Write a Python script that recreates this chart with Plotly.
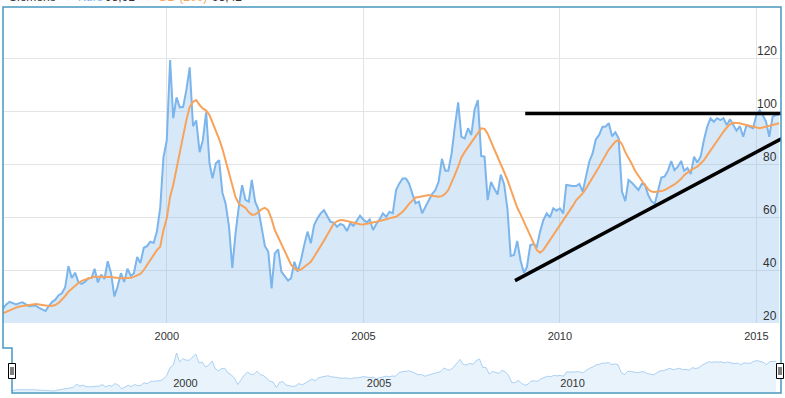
import pandas as pd
import plotly.graph_objects as go

# ---------------- data (monthly, starting Nov 1995) ----------------
start_month = "1995-11-01"

kurs = [
    25.5, 27.0, 28.0, 27.6, 27.0, 27.5, 27.8, 27.0, 26.3, 26.5,
    26.5, 25.7, 25.0, 24.5, 26.5, 28.0, 28.8, 30.5, 31.2, 33.5,
    41.5, 37.0, 39.0, 35.5, 34.8, 35.5, 36.9, 37.0, 40.5, 35.3,
    38.3, 36.6, 43.3, 38.9, 30.0, 33.8, 38.8, 35.5, 40.5, 37.8,
    38.7, 44.9, 42.6, 48.4, 49.0, 50.7, 50.2, 54.5, 63.5, 82.5,
    89.0, 119.3, 97.3, 105.2, 101.4, 101.6, 107.9, 116.5, 94.3, 96.5,
    84.5, 89.0, 99.5, 80.3, 74.6, 80.3, 81.5, 69.2, 65.0, 56.5,
    40.8, 53.9, 64.0, 72.0, 66.5, 65.8, 74.0, 65.8, 63.0, 56.0,
    49.0, 47.0, 33.1, 46.3, 47.8, 39.4, 37.5, 36.0, 36.9, 43.1,
    39.4, 43.8, 49.4, 54.5, 50.1, 57.0, 59.5, 61.4, 62.6, 60.1,
    58.2, 57.9, 56.3, 57.4, 56.9, 54.7, 57.6, 56.7, 58.9, 60.5,
    59.1, 58.0, 59.1, 55.1, 57.4, 59.1, 61.4, 60.1, 62.0, 61.4,
    70.2, 72.7, 74.6, 74.6, 72.7, 68.9, 65.2, 65.8, 61.4, 63.9,
    66.4, 68.7, 70.2, 73.3, 82.0, 77.5, 77.5, 84.0, 94.1, 103.3,
    90.3, 89.7, 93.5, 91.0, 100.6, 104.2, 83.1, 82.8, 66.4, 73.3,
    70.8, 68.5, 76.0, 72.4, 63.0, 45.3, 45.7, 51.0, 43.5, 39.0,
    41.2, 49.4, 49.8, 48.8, 54.5, 58.9, 61.4, 59.9, 63.3, 62.4,
    63.3, 61.4, 72.1, 71.8, 71.7, 71.7, 72.5, 69.6, 75.8, 80.9,
    84.0, 89.3, 91.0, 94.1, 94.1, 95.4, 90.5, 92.0, 89.7, 69.6,
    66.0, 74.0, 73.0, 71.8, 70.2, 72.5, 72.3, 68.3, 66.0, 65.0,
    70.0, 74.9, 75.3, 77.5, 81.1, 77.7, 79.0, 81.2, 77.5, 78.5,
    76.2, 82.8, 80.6, 82.8, 89.1, 94.1, 97.3, 96.0, 97.3, 96.6,
    97.3, 94.7, 96.9, 94.7, 92.6, 94.3, 90.3, 94.7, 94.1, 93.5,
    98.5, 100.4, 98.5, 96.0, 90.3, 97.9, 98.5, 98.91,
]

gd200 = [
    23.6, 24.2, 24.9, 25.4, 25.8, 26.2, 26.4, 26.6, 26.8, 27.0,
    27.2, 27.0, 26.8, 26.6, 26.4, 26.5, 26.8, 27.6, 28.7, 30.2,
    31.8, 33.0, 34.3, 35.1, 35.9, 36.4, 36.9, 37.2, 37.5, 37.5,
    37.5, 37.5, 37.5, 37.4, 37.2, 37.0, 36.9, 36.9, 36.9, 37.1,
    37.4, 37.9, 38.5, 40.0, 41.9, 43.8, 45.7, 47.5, 48.8, 55.0,
    59.5, 67.7, 72.1, 78.4, 84.0, 90.3, 96.6, 101.6, 103.5, 104.2,
    102.3, 101.0, 100.2, 98.5, 95.6, 93.0, 89.5, 85.8, 81.5, 77.0,
    72.5, 67.5, 65.0, 64.2, 63.5, 61.8, 60.9, 61.0, 61.8, 63.0,
    63.5, 62.5, 59.2, 55.1, 52.5, 49.5, 47.0, 44.2, 42.0, 40.6,
    40.0, 40.2, 41.2, 42.2, 43.1, 45.0, 46.9, 49.0, 51.1, 53.3,
    55.2, 57.5, 58.4, 58.9, 58.8, 58.5, 58.2, 57.8, 57.4, 57.3,
    57.2, 57.4, 57.6, 57.9, 58.2, 58.5, 58.9, 59.2, 59.5, 59.8,
    60.1, 61.0, 62.0, 63.5, 65.0, 66.2, 67.4, 67.6, 67.9, 68.1,
    68.3, 68.0, 67.7, 67.7, 67.9, 68.8, 70.2, 72.8, 75.9, 79.0,
    82.5, 84.6, 86.5, 88.3, 90.2, 92.0, 93.5, 93.3, 91.5, 88.5,
    85.5, 83.0, 80.0, 77.0, 74.0, 70.5, 66.5, 63.5, 61.0, 58.2,
    55.5, 52.8, 50.1, 47.5, 46.5, 47.6, 49.5, 51.3, 53.2, 55.1,
    57.0, 58.9, 60.5, 62.0, 64.2, 66.3, 67.6, 68.9, 70.8, 72.7,
    74.8, 77.0, 79.0, 81.3, 83.5, 85.5, 87.0, 88.5, 89.1, 87.5,
    84.5, 82.5, 80.0, 77.5, 75.5, 73.8, 72.0, 70.5, 69.6, 69.5,
    69.6, 69.8, 70.2, 70.8, 71.4, 72.3, 73.3, 74.4, 75.8, 76.8,
    77.7, 78.4, 79.0, 80.2, 81.5, 83.3, 85.2, 87.2, 89.1, 90.7,
    92.2, 93.8, 95.0, 95.6, 95.6, 95.4, 95.0, 94.7, 94.3, 93.9,
    93.6, 93.5, 93.8, 94.1, 94.4, 94.7, 95.0, 95.42,
]

# hand-drawn trend lines (date, value)
resist_dates = ["2009-02-13", "2015-10-15"]
resist_vals = [99.1, 99.1]
support_dates = ["2008-11-10", "2015-09-25"]
support_vals = [36.0, 90.3]

year_tick0 = "2000-01-01"
nav_year_ticks = ["2000-01-01", "2005-01-01", "2010-01-01"]
nav_year_labels = ["2000", "2005", "2010"]
y_ticks = [20, 40, 60, 80, 100, 120]
y_labels = ["20", "40", "60", "80", "100", "120"]

x_range = ["1995-11-01", "2015-08-18"]
y_range = [20, 139.3]
nav_y_range = [22, 129.3]

# ---------------- figure ----------------
W, H = 785, 398


def px(x):
    return x / W


def py(y):
    return 1 - y / H


dates = pd.date_range(start_month, periods=len(kurs), freq="MS")

BLUE = "#7cb5ec"
ORANGE = "#f7a35c"
GRID = "#e4e4e4"
OUTLINE = "#4797c0"
FONT = "Liberation Sans, Arial, sans-serif"
TXT = "#333333"

fig = go.Figure()

fig.add_trace(go.Scatter(
    x=dates, y=kurs, mode="lines", name="Kurs",
    line=dict(color=BLUE, width=2),
    fill="tozeroy", fillcolor="rgba(124,181,236,0.30)",
))
fig.add_trace(go.Scatter(
    x=dates, y=gd200, mode="lines", name="GD (200)",
    line=dict(color=ORANGE, width=2),
))
fig.add_trace(go.Scatter(
    x=resist_dates, y=resist_vals, mode="lines",
    line=dict(color="black", width=3.5),
))
fig.add_trace(go.Scatter(
    x=support_dates, y=support_vals, mode="lines",
    line=dict(color="black", width=3.5),
))
# navigator series
fig.add_trace(go.Scatter(
    x=dates, y=kurs, mode="lines", xaxis="x2", yaxis="y2",
    line=dict(color="rgba(124,181,236,0.6)", width=1),
    fill="tozeroy", fillcolor="rgba(124,181,236,0.17)",
))

fig.update_layout(
    width=W, height=H,
    margin=dict(l=0, r=0, t=0, b=0),
    paper_bgcolor="white", plot_bgcolor="white",
    showlegend=False,
    hovermode=False,
    font=dict(family=FONT, size=12, color=TXT),
    xaxis=dict(
        domain=[px(3), px(781)], range=x_range, type="date",
        tickmode="linear", tick0=year_tick0, dtick="M60", tickformat="%Y",
        showgrid=True, gridcolor=GRID, gridwidth=1,
        showline=False, zeroline=False, ticks="",
        tickfont=dict(size=11, color=TXT),
        ticklabelstandoff=5,
        anchor="y",
    ),
    yaxis=dict(
        domain=[py(323), py(7)], range=y_range,
        tickvals=y_ticks, showticklabels=False,
        showgrid=True, gridcolor=GRID, gridwidth=1,
        showline=False, zeroline=False, ticks="",
        anchor="x",
    ),
    xaxis2=dict(
        domain=[px(12), px(778)], range=x_range, type="date",
        tickvals=nav_year_ticks, ticktext=nav_year_labels,
        ticklabelposition="inside right",
        showgrid=False, showline=False, zeroline=False, ticks="",
        tickfont=dict(size=11, color=TXT),
        ticklabelstandoff=-3,
        anchor="y2",
    ),
    yaxis2=dict(
        domain=[py(392), py(349)], range=nav_y_range,
        visible=False, showgrid=False, zeroline=False,
        anchor="x2",
    ),
)

# y-axis labels (inside, right-aligned, slightly above the grid line)
for v, lab in zip(y_ticks, y_labels):
    fig.add_annotation(text=lab, x=px(779), y=v, xref="paper", yref="y",
                       xanchor="right", yanchor="middle", yshift=7,
                       showarrow=False, font=dict(size=12, color=TXT, family=FONT))

# outline around chart + navigator
outline_pts = [(3, 7), (781, 7), (781, 393), (12, 393), (12, 348), (3, 348)]
path = "M " + " L ".join(f"{px(x):.5f},{py(y):.5f}" for x, y in outline_pts) + " Z"
shapes = [dict(type="path", xref="paper", yref="paper", path=path,
               line=dict(color=OUTLINE, width=1.5), fillcolor="rgba(0,0,0,0)")]

# navigator handles
for cx in (12, 780):
    shapes.append(dict(type="rect", xref="paper", yref="paper",
                       x0=px(cx - 3.5), x1=px(cx + 3.5), y0=py(378.5), y1=py(363.5),
                       line=dict(color="black", width=1), fillcolor="white"))
    for dx in (-1, 1):
        shapes.append(dict(type="line", xref="paper", yref="paper",
                           x0=px(cx + dx), x1=px(cx + dx), y0=py(375), y1=py(367),
                           line=dict(color="black", width=1)))
fig.update_layout(shapes=shapes)

# cut-off legend text at top
legend_items = [
    ("Siemens", 7, TXT),
    ("\u25CF", 62, BLUE),
    ("Kurs", 76, BLUE),
    ("98,91", 103, TXT),
    ("\u25CF", 143, ORANGE),
    ("GD (200)", 156, ORANGE),
    ("95,42", 210, TXT),
]
for txt, x, col in legend_items:
    fig.add_annotation(text=txt, x=px(x), y=py(-3), xref="paper", yref="paper",
                       xanchor="left", yanchor="middle", showarrow=False,
                       font=dict(size=12, color=col, family=FONT))

fig.write_html(
    "out.html",
    config={"displayModeBar": False},
    post_script="document.body.style.margin='0';document.body.style.overflow='hidden';",
)
